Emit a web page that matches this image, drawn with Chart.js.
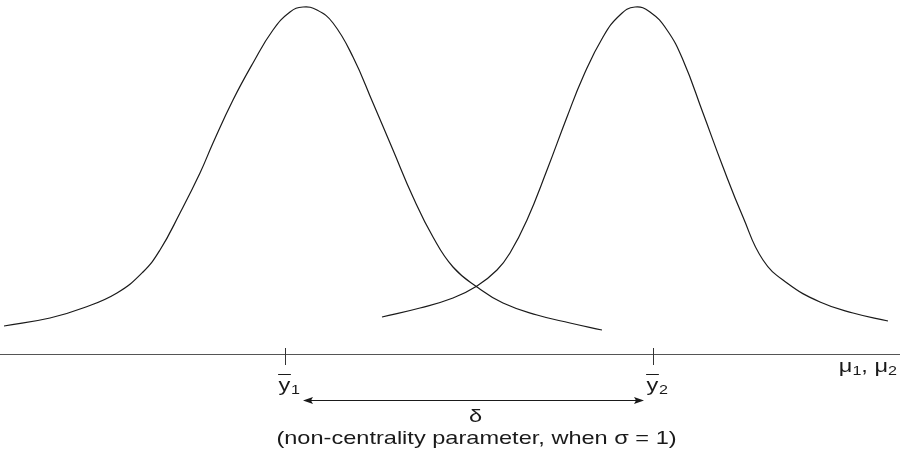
<!DOCTYPE html>
<html>
<head>
<meta charset="utf-8">
<script src="https://cdn.jsdelivr.net/npm/chart.js@4.4.1/dist/chart.umd.min.js"></script>
<style>
  html, body { margin: 0; padding: 0; background: #fff; }
  #wrap { width: 900px; height: 456px; }
</style>
</head>
<body>
<div id="wrap"><canvas id="chart" width="900" height="456"></canvas></div>
<script>
    // 曲线1（ȳ1 附近）：横坐标 / 高度
    const curve1X = [4, 50, 83, 117, 143, 160, 180, 200, 213, 233, 253, 273, 290, 303, 317, 333, 353, 373, 393, 413, 433, 453, 477, 503, 537, 570, 602];
    const curve1Y = [28, 36, 46, 61, 82, 104, 141, 181, 211, 254, 291, 324, 342, 347, 344, 331, 297, 251, 204, 157, 117, 87, 67, 51, 39, 31, 24];

    // 曲线2（ȳ2 附近）
    const curve2X = [382, 420, 453, 477, 497, 510, 527, 547, 567, 583, 603, 620, 635, 650, 667, 683, 703, 723, 743, 763, 787, 820, 853, 888];
    const curve2Y = [37, 46, 56, 68, 84, 101, 134, 184, 237, 277, 317, 339, 347, 342, 324, 294, 241, 187, 137, 94, 71, 52, 41, 33];

    // 坐标轴上的刻度与标签
    const tickX = [285, 653];
    const tickSub = ['1', '2'];
    const axisRange = [0, 900];
    const axisLabel = ['μ', '1', ', ', 'μ', '2'];

    // δ 箭头范围与说明
    const deltaRange = [303, 644];
    const deltaLabel = 'δ';
    const deltaNote = '(non-centrality parameter, when σ = 1)';

    const FONT = '"Liberation Sans", Arial, sans-serif';
    const INK = '#1a1a1a';
    const STRETCH = 1.24;   // 文字横向拉伸
    const BIG = '19px ';
    const SMALL = '13px ';

    function toPoints(xs, ys) {
        return xs.map((x, i) => ({ x: x, y: ys[i] }));
    }

    // 横向拉伸后的文字，align: left / center / right
    function wideText(ctx, str, x, y, align) {
        const w = ctx.measureText(str).width * STRETCH;
        let left = x;
        if (align === 'center') left = x - w / 2;
        if (align === 'right') left = x - w;
        ctx.save();
        ctx.textAlign = 'left';
        ctx.translate(left, y);
        ctx.scale(STRETCH, 1);
        ctx.fillText(str, 0, 0);
        ctx.restore();
        return w;
    }

    // 画坐标轴、刻度、文字和箭头
    const annotate = {
        id: 'annotate',
        afterDatasetsDraw(chart) {
            const ctx = chart.ctx;
            const sx = chart.scales.x;
            const sy = chart.scales.y;
            const y0 = sy.getPixelForValue(0);

            ctx.save();
            ctx.lineWidth = 1;
            ctx.fillStyle = INK;
            ctx.textBaseline = 'alphabetic';

            // 横轴
            ctx.strokeStyle = '#555';
            ctx.beginPath();
            ctx.moveTo(sx.getPixelForValue(axisRange[0]), y0 + 0.5);
            ctx.lineTo(sx.getPixelForValue(axisRange[1]), y0 + 0.5);
            ctx.stroke();

            // 刻度 + ȳ 标签
            tickX.forEach((t, i) => {
                const px = Math.round(sx.getPixelForValue(t)) + 0.5;
                ctx.strokeStyle = '#333';
                ctx.beginPath();
                ctx.moveTo(px, sy.getPixelForValue(6));
                ctx.lineTo(px, sy.getPixelForValue(-11));
                ctx.stroke();

                ctx.font = BIG + FONT;
                const yw = ctx.measureText('y').width * STRETCH;
                const left = px - yw / 2 - 1;
                const base = sy.getPixelForValue(-37);
                wideText(ctx, 'y', left, base, 'left');
                // 上划线
                ctx.strokeStyle = INK;
                ctx.beginPath();
                ctx.moveTo(left - 0.5, base - 16.5);
                ctx.lineTo(left + yw + 0.5, base - 16.5);
                ctx.stroke();
                ctx.font = SMALL + FONT;
                wideText(ctx, tickSub[i], left + yw + 0.5, base + 3, 'left');
            });

            // μ1, μ2
            const parts = axisLabel.map((s, i) => ({ s: s, sub: i === 1 || i === 4 }));
            let total = 0;
            parts.forEach(p => {
                ctx.font = (p.sub ? SMALL : BIG) + FONT;
                p.w = ctx.measureText(p.s).width * STRETCH;
                total += p.w;
            });
            let cx = sx.getPixelForValue(axisRange[1]) - 3 - total;
            const mb = sy.getPixelForValue(-18);
            parts.forEach(p => {
                ctx.font = (p.sub ? SMALL : BIG) + FONT;
                wideText(ctx, p.s, cx, p.sub ? mb + 3 : mb, 'left');
                cx += p.w;
            });

            // δ 双向箭头
            const ay = Math.round(sy.getPixelForValue(-46)) + 0.5;
            const ax1 = sx.getPixelForValue(deltaRange[0]);
            const ax2 = sx.getPixelForValue(deltaRange[1]);
            ctx.strokeStyle = INK;
            ctx.beginPath();
            ctx.moveTo(ax1 + 4, ay);
            ctx.lineTo(ax2 - 4, ay);
            ctx.stroke();
            ctx.beginPath();
            ctx.moveTo(ax1, ay);
            ctx.lineTo(ax1 + 10, ay - 3.5);
            ctx.lineTo(ax1 + 8, ay);
            ctx.lineTo(ax1 + 10, ay + 3.5);
            ctx.closePath();
            ctx.moveTo(ax2, ay);
            ctx.lineTo(ax2 - 10, ay - 3.5);
            ctx.lineTo(ax2 - 8, ay);
            ctx.lineTo(ax2 - 10, ay + 3.5);
            ctx.closePath();
            ctx.fill();

            const mid = (ax1 + ax2) / 2;
            ctx.font = BIG + FONT;
            wideText(ctx, deltaLabel, mid + 2, sy.getPixelForValue(-68), 'center');
            wideText(ctx, deltaNote, mid + 3, sy.getPixelForValue(-90), 'center');
            ctx.restore();
        }
    };

    const lineStyle = {
        borderColor: INK,
        borderWidth: 1.2,
        pointRadius: 0,
        fill: false,
        tension: 0.45
    };

    new Chart(document.getElementById('chart'), {
        type: 'line',
        data: {
            datasets: [
                Object.assign({ label: 'ȳ1', data: toPoints(curve1X, curve1Y) }, lineStyle),
                Object.assign({ label: 'ȳ2', data: toPoints(curve2X, curve2Y) }, lineStyle)
            ]
        },
        options: {
            responsive: false,
            animation: false,
            devicePixelRatio: 1,
            layout: { padding: 0 },
            parsing: false,
            scales: {
                x: { type: 'linear', min: 0, max: 900, display: false },
                y: { type: 'linear', min: -102, max: 354, display: false }
            },
            plugins: {
                legend: { display: false },
                tooltip: { enabled: false }
            }
        },
        plugins: [annotate]
    });
</script>
</body>
</html>
